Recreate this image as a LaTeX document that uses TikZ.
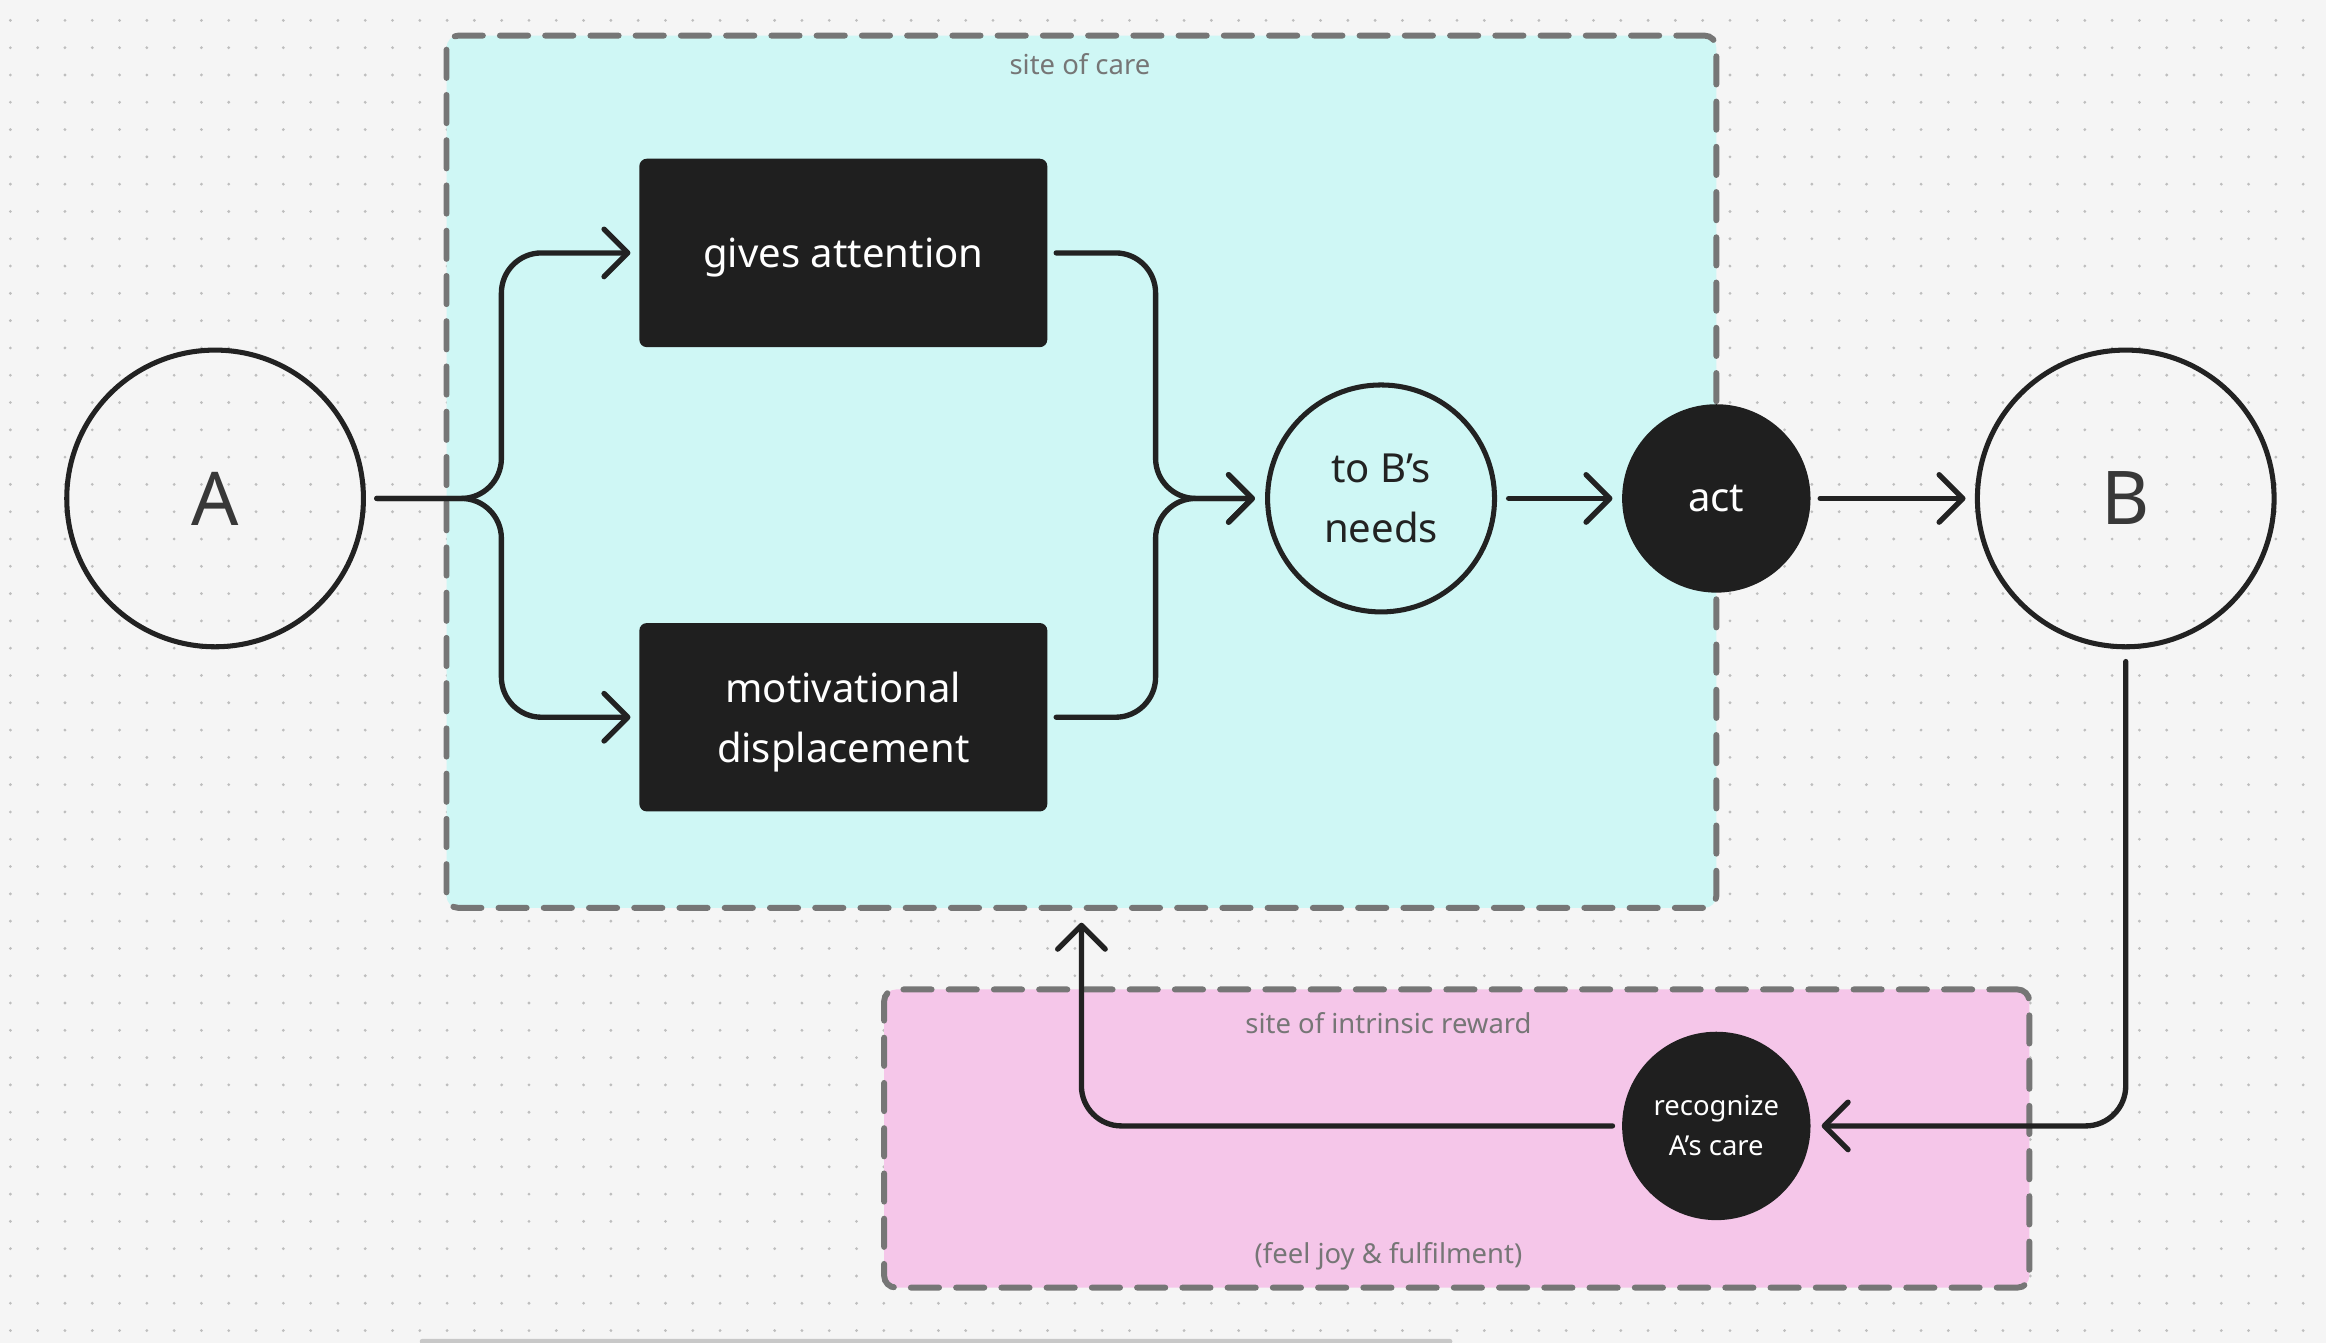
\documentclass[tikz,border=0pt]{standalone}
\usepackage{fontspec}
\setmainfont{Noto Sans}
\usetikzlibrary{arrows.meta}
\definecolor{bgc}{HTML}{F5F5F5}
\definecolor{dotc}{HTML}{BEBEBE}
\definecolor{carec}{HTML}{CFF7F5}
\definecolor{rewardc}{HTML}{F5C6E9}
\definecolor{dashc}{HTML}{767676}
\definecolor{ink}{HTML}{222222}
\definecolor{boxc}{HTML}{1F1F1F}
\definecolor{labelc}{HTML}{767676}
\definecolor{barc}{HTML}{C8C8C8}
\begin{document}
\begin{tikzpicture}[x=1pt,y=-1pt,
  groupbox/.style={draw=dashc, line width=4pt, dash pattern=on 19pt off 11.5pt,
    line cap=round, rounded corners=8pt, inner sep=0pt, outer sep=0pt},
  grouplabel/.style={text=labelc, font=\fontsize{18.5}{22}\selectfont, inner sep=0pt},
  bigcirc/.style={circle, draw=ink, line width=3.4pt, minimum size=200pt, inner sep=0pt, outer sep=0pt,
    text=ink!90, font=\fontsize{50}{60}\selectfont},
  midcirc/.style={circle, draw=ink, line width=3.4pt, fill=carec, minimum size=153pt, inner sep=0pt, outer sep=0pt,
    text=ink, align=center, font=\fontsize{27}{41}\selectfont},
  darkcirc/.style={circle, fill=boxc, minimum size=127pt, inner sep=0pt, outer sep=0pt,
    text=white, align=center},
  darkbox/.style={rectangle, fill=boxc, rounded corners=5pt, minimum width=275pt, minimum height=127pt,
    inner sep=0pt, outer sep=0pt, text=white, align=center, text depth=0pt, font=\fontsize{27}{41}\selectfont},
  conn/.style={draw=ink, line width=3.6pt, line cap=round, line join=round, rounded corners=27pt,
    -{Straight Barb[length=16pt, width=32pt, round]}}
]
% background
\useasboundingbox (0,0) rectangle (1568,905);
\fill[bgc] (0,0) rectangle (1568,905);
\foreach \j in {0,...,48} {
  \draw[dotc, line width=2.1pt, line cap=round, dash pattern=on 0pt off 18.4pt]
    (7,{13.75+18.4*\j}) -- (1568,{13.75+18.4*\j});
}
\fill[barc, rounded corners=1.5pt] (283,902.6) rectangle (979,906);

% group boxes
\node[groupbox, fill=carec, minimum width=856pt, minimum height=588pt] (care) at (729,318) {};
\node[groupbox, fill=rewardc, minimum width=772pt, minimum height=201pt] (reward) at (982,767.5) {};
\node[grouplabel] (carelabel) at (728,43) {site of care};
\node[grouplabel] (rewardlabel) at (936,690) {site of intrinsic reward};
\node[grouplabel] (joylabel) at (936,847) {(feel joy \& fulfilment)};

% nodes
\node[bigcirc] (A) at (145,336) {A};
\node[bigcirc] (B) at (1433,336) {B};
\node[darkbox] (ga) at (568.5,170.5) {gives attention};
\node[darkbox] (md) at (568.5,483.5) {motivational\\displacement};
\node[midcirc] (needs) at (931,336) {to B’s\\needs};
\node[darkcirc, font=\fontsize{27}{41}\selectfont] (act) at (1157,336) {act};
\node[darkcirc, font=\fontsize{18.5}{27}\selectfont] (rec) at (1157,759) {recognize\\A’s care};

% junction points
\coordinate (splitL) at (338,336);
\coordinate (splitR) at (779,336);

% connectors
\draw[conn, shorten <=9pt, shorten >=6pt] (A.east) -- (splitL) -- (splitL |- ga.west) -- (ga.west);
\draw[conn, shorten <=9pt, shorten >=6pt] (A.east) -- (splitL) -- (splitL |- md.west) -- (md.west);
\draw[conn, shorten <=6pt, shorten >=8.5pt] (ga.east) -- (ga.east -| splitR) -- (splitR) -- (needs.west);
\draw[conn, shorten <=6pt, shorten >=8.5pt] (md.east) -- (md.east -| splitR) -- (splitR) -- (needs.west);
\draw[conn, shorten <=9.5pt, shorten >=6.5pt] (needs.east) -- (act.west);
\draw[conn, shorten <=6.5pt, shorten >=8pt] (act.east) -- (B.west);
\draw[conn, shorten <=10pt, shorten >=7.5pt] (B.south) -- (B.south |- rec.east) -- (rec.east);
\draw[conn, shorten <=6.5pt, shorten >=10pt] (rec.west) -- (rec.west -| care.south) -- (care.south);
\end{tikzpicture}
\end{document}
